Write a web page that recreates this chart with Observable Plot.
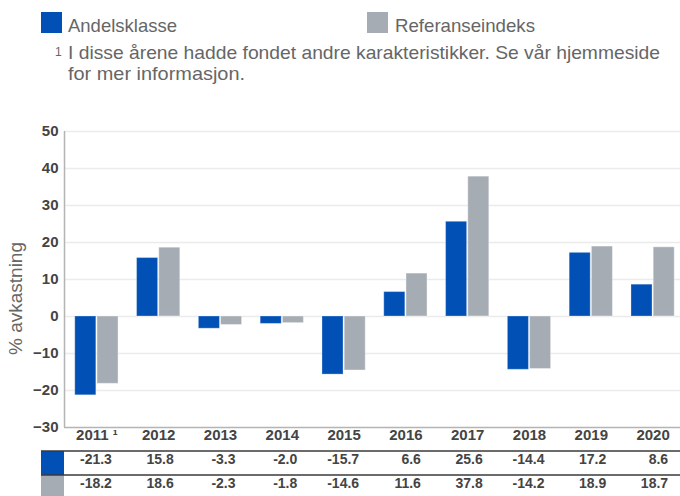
<!DOCTYPE html>
<html>
<head>
<meta charset="utf-8">
<script src="https://cdn.jsdelivr.net/npm/d3@7"></script>
<script src="https://cdn.jsdelivr.net/npm/@observablehq/plot@0.6"></script>
<style>
  html, body { margin: 0; padding: 0; background: #fff; }
  #wrap { width: 680px; height: 496px; overflow: hidden; position: relative; font-family: 'Liberation Sans', Arial, sans-serif; }
  #head { display: block; font-family: 'Liberation Sans', Arial, sans-serif; }
  #chart svg { display: block; overflow: visible; }
  #chart [aria-label^="y-axis"] text { font-weight: bold; font-size: 15px; fill: #444; }
</style>
</head>
<body>
<div id="wrap">
  <svg id="head" width="680" height="110"></svg>
  <div id="chart"></div>
</div>
<script>
// ---- data ----
const years = [2011, 2012, 2013, 2014, 2015, 2016, 2017, 2018, 2019, 2020];
const yearLabels = ["2011 \u00b9", "2012", "2013", "2014", "2015", "2016", "2017", "2018", "2019", "2020"];
const seriesNames = ["Andelsklasse", "Referanseindeks"];
const andelsklasse = [-21.3, 15.8, -3.3, -2.0, -15.7, 6.6, 25.6, -14.4, 17.2, 8.6];
const referanseindeks = [-18.2, 18.6, -2.3, -1.8, -14.6, 11.6, 37.8, -14.2, 18.9, 18.7];
const yTicks = [-30, -20, -10, 0, 10, 20, 30, 40, 50];
const yLabel = "% avkastning";
const footnoteMark = "1";
const footnoteLines = ["I disse årene hadde fondet andre karakteristikker. Se vår hjemmeside", "for mer informasjon."];

const blue = "#0050b5";
const gray = "#a6acb3";
const colors = [blue, gray];

const rowsA = years.map((year, i) => ({year, value: andelsklasse[i], label: yearLabels[i]}));
const rowsR = years.map((year, i) => ({year, value: referanseindeks[i], label: yearLabels[i]}));

// ---- header legend + footnote ----
const head = d3.select("#head");
const legendX = [[41, 68, 109], [367, 395, 140]];
seriesNames.forEach((name, i) => {
  head.append("rect").attr("x", legendX[i][0]).attr("y", 12).attr("width", 21).attr("height", 21).attr("fill", colors[i]);
  head.append("text").attr("x", legendX[i][1]).attr("y", 32).attr("font-size", 18.5).attr("fill", "#666")
    .attr("textLength", legendX[i][2]).attr("lengthAdjust", "spacingAndGlyphs").text(name);
});
head.append("text").attr("x", 55).attr("y", 56).attr("font-size", 12).attr("fill", "#666").text(footnoteMark);
const footLens = [592, 177];
footnoteLines.forEach((t, i) => {
  head.append("text").attr("x", 68).attr("y", 59 + i * 21).attr("font-size", 18.5).attr("fill", "#666")
    .attr("textLength", footLens[i]).attr("lengthAdjust", "spacingAndGlyphs").text(t);
});

// ---- chart ----
const chart = Plot.plot({
  width: 680,
  height: 386,
  marginTop: 21,
  marginBottom: 69,
  marginLeft: 64,
  marginRight: -4,
  style: {fontFamily: "'Liberation Sans', Arial, sans-serif", fontSize: "15px", color: "#444", background: "transparent", overflow: "visible"},
  x: {domain: years, range: [65.5, 683.5], paddingInner: 0.3, paddingOuter: 0.15, round: false, axis: null},
  y: {domain: [-30, 50], ticks: yTicks, tickSize: 0, tickPadding: 6, label: null},
  marks: [
    Plot.ruleY(yTicks.filter(t => t > -30), {stroke: "#ebebeb", strokeWidth: 1.5}),
    Plot.ruleY([-30], {stroke: "#b4b4b4", strokeWidth: 1.5}),
    Plot.barY(rowsA, {x: "year", y: "value", fill: blue, stroke: "#ffffff", strokeOpacity: 0.3, insetRight: 22.2}),
    Plot.barY(rowsR, {x: "year", y: "value", fill: gray, stroke: "#ffffff", strokeOpacity: 0.4, insetLeft: 22.2}),
    Plot.text(rowsA, {x: "year", text: "label", frameAnchor: "bottom", dy: 12, fontWeight: "bold", fontSize: 15, fill: "#444"}),
    Plot.text(rowsA, {x: "year", text: d => d.value.toFixed(1), frameAnchor: "bottom", dy: 36, dx: 15, textAnchor: "end", fontWeight: "bold", fontSize: 14, fill: "#444"}),
    Plot.text(rowsR, {x: "year", text: d => d.value.toFixed(1), frameAnchor: "bottom", dy: 60, dx: 15, textAnchor: "end", fontWeight: "bold", fontSize: 14, fill: "#444"}),
    Plot.text([yLabel], {frameAnchor: "left", textAnchor: "middle", dx: -49, dy: 19, rotate: -90, fontSize: 19, fill: "#666"})
  ]
});
document.getElementById("chart").appendChild(chart);

// ---- decorations: left axis line, table swatches and rules ----
const svg = d3.select(chart.tagName.toLowerCase() === "svg" ? chart : chart.querySelector("svg"));
const ys = chart.scale("y");
const y0 = ys.apply(50), y1 = ys.apply(-30);
svg.append("line").attr("x1", 64.5).attr("x2", 64.5).attr("y1", y0).attr("y2", y1).attr("stroke", "#b4b4b4").attr("stroke-width", 1.5);
svg.append("rect").attr("x", 41).attr("y", 341).attr("width", 23).attr("height", 24).attr("fill", blue);
svg.append("rect").attr("x", 41).attr("y", 365).attr("width", 23).attr("height", 21).attr("fill", gray);
[341, 365].forEach(yy => {
  svg.append("line").attr("x1", 41).attr("x2", 680).attr("y1", yy).attr("y2", yy).attr("stroke", "#3a3a3a").attr("stroke-width", 1.5);
});
</script>
</body>
</html>
